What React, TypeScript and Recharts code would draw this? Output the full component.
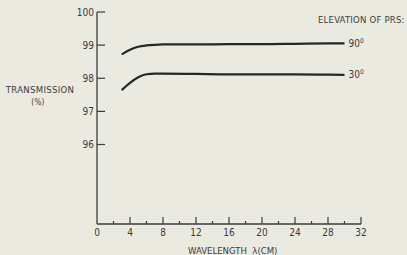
import { Line, LineChart, XAxis, YAxis } from "recharts";

const wavelengths = [3, 4, 5, 6, 7, 8, 12, 16, 20, 24, 28, 30];
const elev90 = [98.72, 98.86, 98.95, 98.99, 99.01, 99.02, 99.02, 99.03, 99.03, 99.04, 99.05, 99.05];
const elev30 = [97.64, 97.86, 98.03, 98.12, 98.14, 98.14, 98.13, 98.12, 98.12, 98.12, 98.11, 98.1];
const xTicks = [0, 2, 4, 6, 8, 10, 12, 14, 16, 18, 20, 22, 24, 26, 28, 30, 32];
const yTicks = [96, 97, 98, 99, 100];
const seriesLabels = { e90: "90", e30: "30" };

const data = wavelengths.map((w, i) => ({ w, e90: elev90[i], e30: elev30[i] }));

const BG = "#ebeae1";
const INK = "#3b3b3b";
const LINE = "#262626";
const FONT = "'Liberation Sans Narrow', 'DejaVu Sans Condensed', sans-serif";

const YTick = ({ x, y, payload }: any) => (
  <g>
    <line x1={x + 3} y1={y} x2={x + 11} y2={y} stroke={INK} strokeWidth={1.2} />
    <text x={x} y={y} dy={3.5} textAnchor="end" fontSize={10} fill={INK} fontFamily={FONT}>
      {payload.value}
    </text>
  </g>
);

const XTick = ({ x, y, payload }: any) => {
  const major = payload.value % 4 === 0;
  const axisY = y - 4;
  return (
    <g>
      {payload.value > 0 && (
        <line x1={x} y1={axisY} x2={x} y2={axisY - (major ? 7 : 3)} stroke={INK} strokeWidth={1.2} />
      )}
      {major && (
        <text x={x} y={axisY} dy={12} textAnchor="middle" fontSize={10} fill={INK} fontFamily={FONT}>
          {payload.value}
        </text>
      )}
    </g>
  );
};

const endLabel = (text: string) => (props: any) => {
  if (props.index !== wavelengths.length - 1) return null;
  return (
    <text x={props.x + 4} y={props.y} dy={3.5} fontSize={10} fill={INK} fontFamily={FONT}>
      {text}
      <tspan fontSize={6.5} dy={-4}>0</tspan>
    </text>
  );
};

export default function App() {
  return (
    <div style={{ position: "absolute", left: 0, top: 0, width: 407, height: 255, background: BG }}>
      <LineChart width={407} height={255} data={data} margin={{ top: 12, right: 46, bottom: 0, left: 57 }}>
        <XAxis
          dataKey="w"
          type="number"
          domain={[0, 32]}
          ticks={xTicks}
          interval={0}
          tickSize={0}
          tickMargin={4}
          height={31}
          tick={<XTick />}
          axisLine={{ stroke: INK, strokeWidth: 1.3 }}
        />
        <YAxis
          type="number"
          domain={[93.6, 100]}
          ticks={yTicks}
          interval={0}
          tickSize={0}
          tickMargin={3}
          width={40}
          tick={<YTick />}
          axisLine={{ stroke: INK, strokeWidth: 1.3 }}
        />
        <Line
          dataKey="e90"
          type="monotone"
          stroke={LINE}
          strokeWidth={2.2}
          dot={false}
          isAnimationActive={false}
          label={endLabel(seriesLabels.e90)}
        />
        <Line
          dataKey="e30"
          type="monotone"
          stroke={LINE}
          strokeWidth={2.2}
          dot={false}
          isAnimationActive={false}
          label={endLabel(seriesLabels.e30)}
        />
      </LineChart>
      <div style={{ position: "absolute", left: 318, top: 14, fontSize: 9.5, color: INK, fontFamily: FONT, letterSpacing: 0.2, whiteSpace: "nowrap" }}>
        ELEVATION OF PRS:
      </div>
      <div style={{ position: "absolute", left: 0, top: 83, width: 80, textAlign: "center", fontSize: 9.5, lineHeight: "13px", color: INK, fontFamily: FONT, letterSpacing: 0.3 }}>
        <div style={{ marginLeft: 0 }}>TRANSMISSION</div>
        <div style={{ fontSize: 8, marginLeft: -4 }}>(%)</div>
      </div>
      <div style={{ position: "absolute", left: 188, top: 245, fontSize: 9.5, color: INK, fontFamily: FONT, whiteSpace: "nowrap" }}>
        WAVELENGTH &nbsp;λ(CM)
      </div>
    </div>
  );
}
